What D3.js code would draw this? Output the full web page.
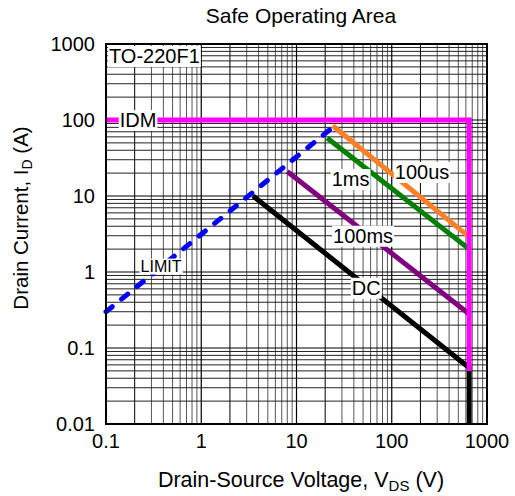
<!DOCTYPE html>
<html>
<head>
<meta charset="utf-8">
<script src="https://cdn.jsdelivr.net/npm/d3@7"></script>
<style>
  body { margin: 0; background: #fff; }
  text { font-family: "Liberation Sans", Arial, sans-serif; fill: #000; }
</style>
</head>
<body>
<svg id="chart" width="515" height="496"></svg>
<script>
// ticks
var xTicks = [0.1, 1, 10, 100, 1000];
var yTicks = [0.01, 0.1, 1, 10, 100, 1000];
var xTickLabels = ["0.1", "1", "10", "100", "1000"];
var yTickLabels = ["0.01", "0.1", "1", "10", "100", "1000"];

// SOA boundaries (V, A)
var idmV    = [0.1, 650, 650];
var idmI    = [100, 100, 0.05];
var limitV  = [0.1, 24];
var limitI  = [0.3, 80];
var us100V  = [24, 650];
var us100I  = [84, 2.9];
var ms1V    = [21, 650];
var ms1I    = [58, 2.0];
var ms100V  = [8, 650];
var ms100I  = [21, 0.28];
var dcV     = [3.5, 650, 650];
var dcI     = [10, 0.055, 0.01];

// label anchors (V, A)
var labelNames = ["IDM", "1ms", "100us", "100ms", "DC", "LIMIT"];
var labelV     = [0.217, 37, 208, 50, 54, 0.378];
var labelI     = [100, 16.7, 20.7, 3.0, 0.62, 1.2];

var margin = { top: 44, right: 28, bottom: 72, left: 106 };
var width  = 515 - margin.left - margin.right;
var height = 496 - margin.top - margin.bottom;

var svg = d3.select("#chart");
var g = svg.append("g").attr("transform", "translate(" + margin.left + "," + margin.top + ")");

var x = d3.scaleLog().domain([0.1, 1000]).range([0, width]);
var y = d3.scaleLog().domain([0.01, 1000]).range([height, 0]);

//grid
var xMinor = [], yMinor = [];
for (var d = 0.1; d < 1000; d *= 10)
	for (var k = 2; k <= 9; k++) xMinor.push(d * k);
for (var d = 0.01; d < 1000; d *= 10)
	for (var k = 2; k <= 9; k++) yMinor.push(d * k);

g.selectAll(".xminor").data(xMinor).enter().append("line")
	.attr("x1", function(d){ return x(d); }).attr("x2", function(d){ return x(d); })
	.attr("y1", 0).attr("y2", height)
	.attr("stroke", function(d, i){ return (i % 8 == 0) ? "#000" : "#555"; })
	.attr("stroke-width", 1);
g.selectAll(".yminor").data(yMinor).enter().append("line")
	.attr("y1", function(d){ return y(d); }).attr("y2", function(d){ return y(d); })
	.attr("x1", 0).attr("x2", width)
	.attr("stroke", "#222")
	.attr("stroke-width", 1);
g.selectAll(".xmajor").data(xTicks).enter().append("line")
	.attr("x1", function(d){ return x(d); }).attr("x2", function(d){ return x(d); })
	.attr("y1", 0).attr("y2", height)
	.attr("stroke", "#000").attr("stroke-width", 1.2);
g.selectAll(".ymajor").data(yTicks).enter().append("line")
	.attr("y1", function(d){ return y(d); }).attr("y2", function(d){ return y(d); })
	.attr("x1", 0).attr("x2", width)
	.attr("stroke", "#000").attr("stroke-width", 1.2);

//curves
var line = d3.line()
	.x(function(d){ return x(d[0]); })
	.y(function(d){ return y(d[1]); });

function series(vs, is){
	return vs.map(function(v, i){ return [v, is[i]]; });
}

function drawCurve(vs, is, color, dash){
	var p = g.append("path")
		.attr("d", line(series(vs, is)))
		.attr("fill", "none")
		.attr("stroke", color)
		.attr("stroke-width", 5)
		.attr("stroke-linecap", dash ? "round" : "butt")
		.attr("stroke-linejoin", "miter");
	if (dash) p.attr("stroke-dasharray", dash);
	return p;
}

drawCurve(dcV, dcI, "#000000");
drawCurve(ms100V, ms100I, "#800080");
drawCurve(ms1V, ms1I, "#008000");
drawCurve(us100V, us100I, "#ff7f27");
drawCurve(idmV, idmI, "#ff00ff");
drawCurve(limitV, limitI, "#0000ff", "8,12");

//frame
g.append("rect")
	.attr("width", width).attr("height", height)
	.attr("fill", "none").attr("stroke", "#000").attr("stroke-width", 2);

//labels with white background
function boxedLabel(tx, ty, str, size, anchor){
	var lg = g.append("g");
	var t = lg.append("text")
		.attr("x", tx).attr("y", ty)
		.attr("dy", "0.35em")
		.attr("text-anchor", anchor || "middle")
		.style("font-size", size + "px")
		.text(str);
	var bb = t.node().getBBox();
	lg.insert("rect", "text")
		.attr("x", bb.x - 1).attr("y", bb.y + 1)
		.attr("width", bb.width + 2).attr("height", bb.height - 1)
		.attr("fill", "#fff");
}

labelNames.forEach(function(name, i){
	boxedLabel(x(labelV[i]), y(labelI[i]), name, name == "LIMIT" ? 16 : 20);
});
boxedLabel(3, 12, "TO-220F1", 20, "start");

//tick labels
g.selectAll(".xtick").data(xTicks).enter().append("text")
	.attr("x", function(d){ return x(d); })
	.attr("y", height + 24)
	.attr("text-anchor", "middle")
	.style("font-size", "20px")
	.text(function(d, i){ return xTickLabels[i]; });
g.selectAll(".ytick").data(yTicks).enter().append("text")
	.attr("x", -11)
	.attr("y", function(d){ return y(d); })
	.attr("dy", "0.36em")
	.attr("text-anchor", "end")
	.style("font-size", "20px")
	.text(function(d, i){ return yTickLabels[i]; });

//titles
svg.append("text")
	.attr("x", 301).attr("y", 23)
	.attr("text-anchor", "middle")
	.style("font-size", "21px")
	.text("Safe Operating Area");

var xl = svg.append("text")
	.attr("x", 301).attr("y", 487)
	.attr("text-anchor", "middle")
	.style("font-size", "21.5px");
xl.append("tspan").text("Drain-Source Voltage, V");
xl.append("tspan").attr("dy", 4).style("font-size", "15px").text("DS");
xl.append("tspan").attr("dy", -4).text(" (V)");

var yl = svg.append("text")
	.attr("transform", "translate(28,218) rotate(-90)")
	.attr("text-anchor", "middle")
	.style("font-size", "20.5px");
yl.append("tspan").text("Drain Current, I");
yl.append("tspan").attr("dy", 4).style("font-size", "14px").text("D");
yl.append("tspan").attr("dy", -4).text(" (A)");
</script>
</body>
</html>
